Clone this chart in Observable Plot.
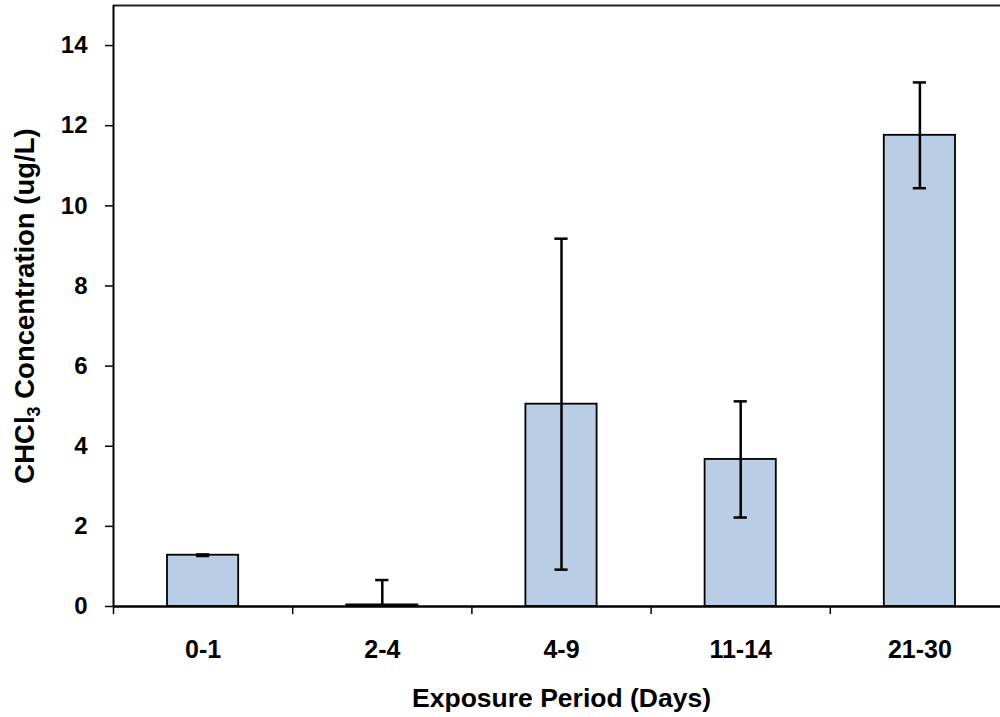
<!DOCTYPE html>
<html><head><meta charset="utf-8">
<script src="https://cdn.jsdelivr.net/npm/d3@7"></script>
<script src="https://cdn.jsdelivr.net/npm/@observablehq/plot@0.6"></script>
<style>html,body{margin:0;padding:0;background:#fff;overflow:hidden}</style>
</head><body><div id="chart"></div>
<script>
const categories = ["0-1", "2-4", "4-9", "11-14", "21-30"];
const values = [1.28, 0.04, 5.05, 3.67, 11.76];
const errors = [0.02, 0.62, 4.13, 1.45, 1.32];
const yTicks = [0, 2, 4, 6, 8, 10, 12, 14];
const xLabel = "Exposure Period (Days)";
const yLabel = "CHCl₃ Concentration (ug/L)";

const data = categories.map((c, i) => ({
  c, i, v: values[i], e: errors[i],
  lo: Math.max(0, values[i] - errors[i]),
  hi: values[i] + errors[i],
  clipped: values[i] - errors[i] < 0
}));

const font = "'Liberation Sans', Arial, sans-serif";

const plot = Plot.plot({
  width: 1010,
  height: 717,
  marginTop: 5,
  marginBottom: 111,
  marginLeft: 113,
  marginRight: 1,
  style: {fontFamily: font, color: "#000", background: "#fff"},
  x: {type: "linear", domain: [0, categories.length], axis: null},
  y: {domain: [0, 15], axis: null},
  marks: [
    Plot.rectY(data, {x1: "i", x2: d => d.i + 1, y1: 0, y2: "v", insetLeft: 54, insetRight: 54,
      fill: "#B9CDE5", stroke: "#000", strokeWidth: 1.8}),
    Plot.ruleX(data, {x: d => d.i + 0.5, y1: "lo", y2: "hi", stroke: "#000", strokeWidth: 2.5}),
    Plot.ruleY(data, {y: "hi", x1: "i", x2: d => d.i + 1, insetLeft: 83, insetRight: 83, stroke: "#000", strokeWidth: 2.5}),
    Plot.ruleY(data.filter(d => !d.clipped), {y: "lo", x1: "i", x2: d => d.i + 1, insetLeft: 83, insetRight: 83, stroke: "#000", strokeWidth: 2.5}),
    Plot.ruleY([15], {stroke: "#222", strokeWidth: 2}),
    Plot.ruleX([0], {stroke: "#000", strokeWidth: 2}),
    Plot.ruleY([0], {stroke: "#000", strokeWidth: 2.5}),
    Plot.axisY({ticks: yTicks, tickSize: 8, tickPadding: 18, fontSize: 24, fontWeight: "bold", label: null, strokeWidth: 1.5}),
    Plot.axisX({ticks: d3.range(categories.length + 1), tickSize: 8, tickFormat: () => "", label: null, strokeWidth: 1.5}),
    Plot.axisX({ticks: categories.map((c, i) => i + 0.5), tickSize: 0, tickPadding: 34,
      tickFormat: d => categories[Math.floor(d)], fontSize: 25, fontWeight: "bold", label: null}),
    Plot.text([xLabel], {x: categories.length / 2, y: 0, dy: 92, text: d => d, fontSize: 26.5, fontWeight: "bold", lineAnchor: "middle", textAnchor: "middle", fill: "#000"}),
    Plot.text([yLabel], {frameAnchor: "left", rotate: -90, dx: -88, text: d => d, fontSize: 27.5, fontWeight: "bold", lineAnchor: "middle", textAnchor: "middle", fill: "#000"})
  ]
});
plot.style.maxWidth = "none";
plot.querySelectorAll("text").forEach(t => {
  if (t.textContent.includes("₃")) {
    const parts = t.textContent.split("₃");
    t.textContent = "";
    const ns = "http://www.w3.org/2000/svg";
    const a = document.createElementNS(ns, "tspan"); a.textContent = parts[0]; t.appendChild(a);
    const s = document.createElementNS(ns, "tspan"); s.textContent = "3"; s.setAttribute("font-size", "18"); s.setAttribute("dy", "6"); t.appendChild(s);
    const b = document.createElementNS(ns, "tspan"); b.textContent = parts[1]; b.setAttribute("dy", "-6"); t.appendChild(b);
  }
});
document.getElementById("chart").appendChild(plot);
</script>
</body></html>
